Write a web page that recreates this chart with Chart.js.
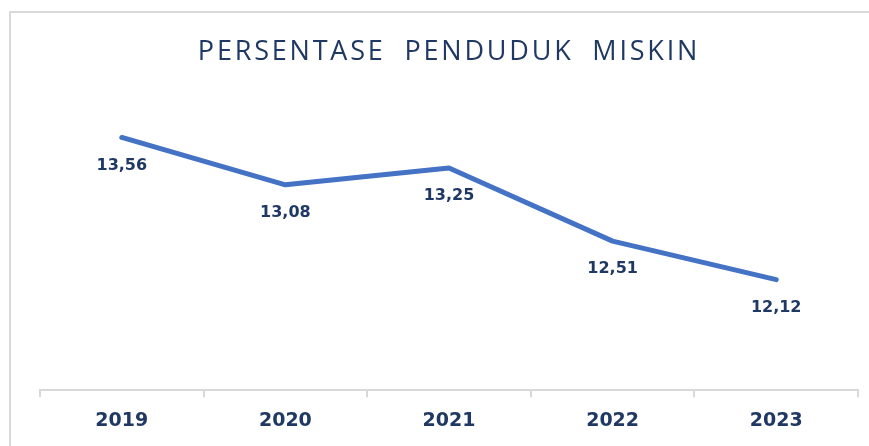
<!DOCTYPE html>
<html lang="id">
<head>
<meta charset="utf-8">
<title>Persentase Penduduk Miskin</title>
<script src="https://cdn.jsdelivr.net/npm/chart.js@4.4.1/dist/chart.umd.min.js"></script>
<style>
  html, body { margin: 0; padding: 0; background: #fff; }
  #wrap { width: 869px; height: 446px; position: relative; }
</style>
</head>
<body>
<div id="wrap"><canvas id="povertyChart" width="869" height="446"></canvas></div>
<script>
'use strict';

/* ── DATA ── */
const years   = ['2019', '2020', '2021', '2022', '2023'];
const percent = [13.56, 13.08, 13.25, 12.51, 12.12];
const chartTitle = 'PERSENTASE PENDUDUK MISKIN';

const NAVY = '#1F3864';
const BLUE = '#4472C4';

/* ── Frame (light grey top / left border) + spaced title ── */
const framePlugin = {
  id: 'frame',
  beforeDraw(chart) {
    const { ctx } = chart;
    ctx.save();
    ctx.strokeStyle = '#d9d9d9';
    ctx.lineWidth = 2;
    ctx.beginPath();
    ctx.moveTo(10, 446);
    ctx.lineTo(10, 12);
    ctx.lineTo(869, 12);
    ctx.stroke();

    // title, drawn here so it can have the wide letter spacing of the original
    ctx.font = "27px 'Open Sans', sans-serif";
    ctx.letterSpacing = '2.8px';
    ctx.wordSpacing = '9px';
    ctx.fillStyle = NAVY;
    ctx.textAlign = 'center';
    ctx.textBaseline = 'middle';
    ctx.fillText(chartTitle, 449, 52);
    ctx.restore();
  },
};

/* ── Value labels below each point ── */
const valueLabels = {
  id: 'valueLabels',
  afterDatasetsDraw(chart) {
    const { ctx } = chart;
    const meta = chart.getDatasetMeta(0);
    ctx.save();
    ctx.font = "bold 16px 'DejaVu Sans', sans-serif";
    ctx.fillStyle = NAVY;
    ctx.textAlign = 'center';
    ctx.textBaseline = 'middle';
    meta.data.forEach((pt, i) => {
      const txt = percent[i].toFixed(2).replace('.', ',');
      ctx.fillText(txt, pt.x, pt.y + 28);
    });
    ctx.restore();
  },
};

new Chart(document.getElementById('povertyChart'), {
  type: 'line',
  data: {
    labels: years,
    datasets: [{
      data: percent,
      borderColor: BLUE,
      borderWidth: 5,
      borderCapStyle: 'round',
      borderJoinStyle: 'round',
      pointRadius: 0,
      tension: 0,
      fill: false,
    }],
  },
  options: {
    responsive: false,
    animation: false,
    layout: { padding: { left: 40, right: 11, top: 94, bottom: 2 } },
    plugins: {
      legend: { display: false },
      tooltip: { enabled: false },
      title: { display: false },
    },
    scales: {
      x: {
        offset: true,
        grid: {
          offset: true,
          drawOnChartArea: false,
          tickLength: 7,
          color: '#d9d9d9',
          lineWidth: 2,
        },
        border: { color: '#d9d9d9', width: 2 },
        ticks: {
          color: NAVY,
          padding: 12,
          font: { family: "'DejaVu Sans', sans-serif", size: 19, weight: 'bold' },
        },
      },
      y: {
        display: false,
        min: 11,
        max: 14,
      },
    },
  },
  plugins: [framePlugin, valueLabels],
});
</script>
</body>
</html>
